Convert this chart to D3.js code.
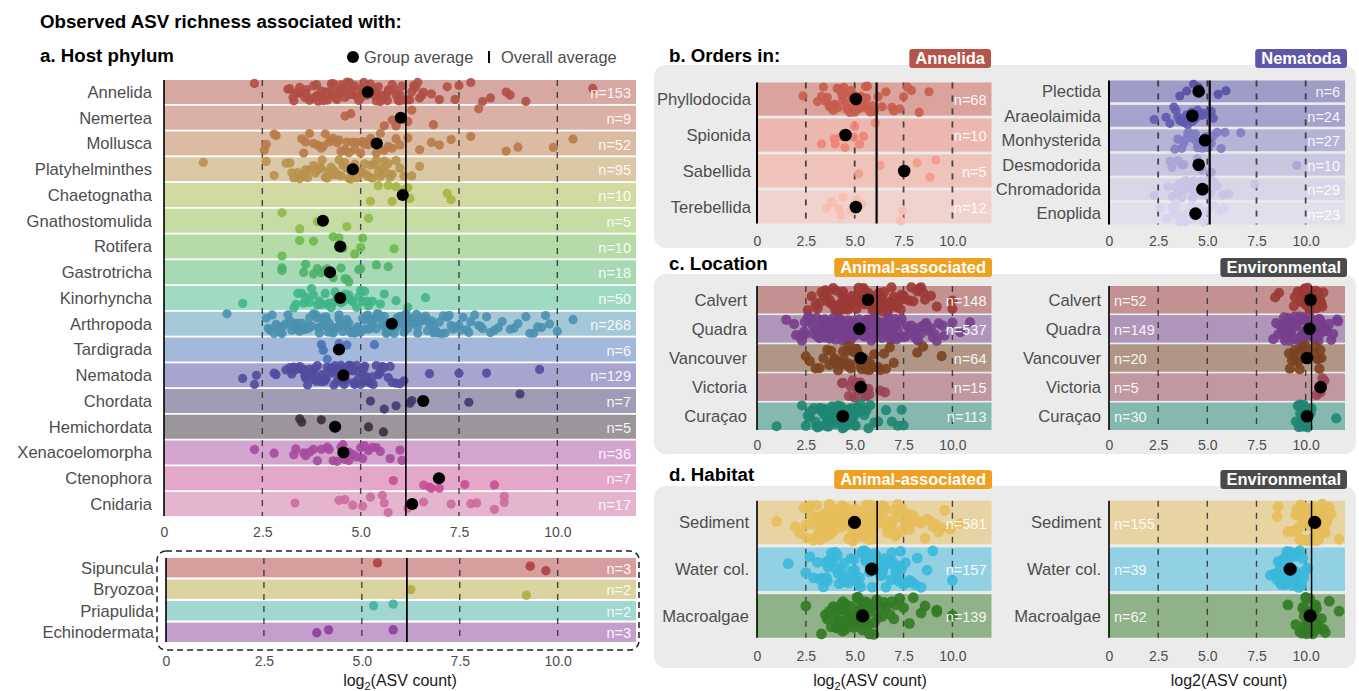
<!DOCTYPE html>
<html><head><meta charset="utf-8">
<script src="https://cdn.jsdelivr.net/npm/d3@7"></script>
<style>body{margin:0;background:#fff}svg{display:block}</style>
</head><body>
<script>
// ---------------- DATA ----------------
const phylumCats = ["Annelida","Nemertea","Mollusca","Platyhelminthes","Chaetognatha","Gnathostomulida","Rotifera","Gastrotricha","Kinorhyncha","Arthropoda","Tardigrada","Nematoda","Chordata","Hemichordata","Xenacoelomorpha","Ctenophora","Cnidaria"];
const phylumN = [153,9,52,95,10,5,10,18,50,268,6,129,7,5,36,7,17];
const phylumAvg = [5.18,6.02,5.41,4.8,6.07,4.04,4.48,4.22,4.48,5.79,4.45,4.56,6.59,4.35,4.56,6.99,6.31];
const phylumPoints = [
 [2.3,3.15,3.2,3.3,3.35,3.4,3.5,3.55,3.6,3.62,3.7,3.75,3.8,3.85,3.9,3.92,4.0,4.05,4.1,4.12,4.2,4.25,4.3,4.33,4.4,4.45,4.5,4.52,4.6,4.65,4.7,4.72,4.8,4.85,4.9,4.93,5.0,5.05,5.1,5.12,5.2,5.25,5.3,5.33,5.4,5.45,5.5,5.52,5.6,5.65,5.7,5.72,5.8,5.85,5.9,5.95,6.0,6.05,6.1,6.2,6.25,6.3,6.4,6.5,6.55,6.6,3.45,3.95,4.35,4.75,5.15,5.55,4.15,4.55,4.95,5.35,6.35,6.8,7.0,7.2,7.4,7.5,7.8,8.1,8.3,8.7,8.8,9.2,10.9,3.28,3.58,3.88,4.18,4.48,4.78,5.08,5.38,5.68,5.98,6.45,4.62,5.02],
 [4.6,4.75,5.6,5.8,5.9,6.2,6.3,6.85,8.0],
 [2.55,2.6,2.8,2.85,3.5,3.55,3.6,3.7,3.8,3.9,4.0,4.05,4.1,4.2,4.25,4.3,4.4,4.45,4.5,4.6,4.65,4.7,4.8,4.85,4.9,5.0,5.05,5.1,5.2,5.25,5.3,5.4,5.5,5.6,5.7,5.8,5.9,6.0,6.2,6.5,6.8,7.0,7.3,7.8,8.7,9.0,9.9,10.4],
 [1.0,2.6,2.8,3.1,3.2,3.25,3.3,3.4,3.45,3.5,3.6,3.65,3.7,3.8,3.85,3.9,4.0,4.02,4.1,4.15,4.2,4.3,4.35,4.4,4.5,4.55,4.6,4.7,4.75,4.8,4.9,4.95,5.0,5.05,5.1,5.15,5.2,5.3,5.35,5.4,5.5,5.55,5.6,5.7,5.75,5.8,5.9,6.0,6.1,6.3,6.5,3.55,3.95,4.25,4.65,5.25,5.45,5.65,4.45,4.85],
 [5.25,5.45,5.7,5.8,5.9,6.1,6.2,6.25,7.2,7.3],
 [3.0,3.45,3.9,4.65,5.2],
 [3.0,3.45,3.8,4.3,4.45,4.55,4.85,5.0,5.05,5.85],
 [3.0,3.0,3.55,3.6,3.8,3.9,4.0,4.1,4.15,4.3,4.5,4.6,4.65,4.7,4.95,5.0,5.4,5.7],
 [2.0,3.3,3.35,3.4,3.5,3.55,3.6,3.7,3.75,3.8,3.9,3.95,4.0,4.1,4.15,4.2,4.3,4.35,4.4,4.5,4.55,4.6,4.7,4.75,4.8,4.9,4.95,5.0,5.1,5.15,5.2,5.3,5.5,5.6,5.9,6.2,6.65,4.25,4.65,5.05],
 [1.6,2.6,2.65,2.7,2.8,2.85,2.9,3.0,3.05,3.1,3.2,3.25,3.3,3.4,3.45,3.5,3.55,3.6,3.65,3.7,3.75,3.8,3.85,3.9,3.95,4.0,4.05,4.1,4.15,4.2,4.25,4.3,4.35,4.4,4.45,4.5,4.55,4.6,4.65,4.7,4.75,4.8,4.85,4.9,4.95,5.0,5.05,5.1,5.15,5.2,5.25,5.3,5.35,5.4,5.45,5.5,5.55,5.6,5.65,5.7,5.75,5.8,5.85,5.9,5.95,6.0,6.05,6.1,6.15,6.2,6.25,6.3,6.35,6.4,6.45,6.5,6.55,6.6,6.65,6.7,6.75,6.8,6.85,6.9,6.95,7.0,7.05,7.1,7.2,7.25,7.3,7.4,7.5,7.6,7.7,7.8,7.9,8.0,8.1,8.2,8.3,8.4,8.6,8.8,9.0,9.3,9.4,9.6,9.8,10.0,10.4,3.35,3.95,4.45,4.85,5.25,5.65,6.05,6.45,6.85,4.12,4.62,5.12,5.62,6.12,3.15,3.42,3.68,3.92,4.18,4.42,4.68,4.92,5.18,5.42,5.68,5.92,6.18,6.42,6.68,6.92,7.15,7.35,7.55,7.75,8.05,8.5,8.9,9.2,9.5,9.7,2.75,2.95],
 [4.0,4.05,4.15,4.45,4.65,5.35],
 [2.0,2.3,2.35,2.8,2.85,3.1,3.2,3.25,3.3,3.4,3.45,3.5,3.55,3.6,3.65,3.7,3.75,3.8,3.85,3.9,3.95,4.0,4.05,4.1,4.15,4.2,4.25,4.3,4.35,4.4,4.45,4.5,4.55,4.6,4.65,4.7,4.75,4.8,4.85,4.9,4.95,5.0,5.05,5.1,5.15,5.2,5.25,5.3,5.4,5.45,5.5,5.6,5.7,5.8,5.9,6.0,6.1,6.75,7.5,8.2,9.55,3.62,4.12,4.62,5.12,3.88,4.38,4.88,3.32,3.58,3.82,4.08,4.32,4.58,4.82,5.08,5.32,5.55,5.75,4.02,4.28,4.52,4.78],
 [5.25,5.6,5.9,6.25,6.3,7.75,9.05],
 [3.45,3.5,4.0,5.2,5.58],
 [2.3,2.8,3.3,3.35,3.55,3.6,3.7,3.8,3.9,4.0,4.15,4.2,4.3,4.4,4.5,4.55,4.6,4.7,4.7,4.8,4.9,5.0,5.05,5.1,5.2,5.3,5.4,5.5,5.75,6.0,6.05],
 [5.83,6.6,6.75,6.8,7.0,7.65,8.4],
 [3.33,4.45,4.6,4.8,5.05,5.25,5.55,5.6,5.7,6.2,6.6,7.3,7.8,7.95,8.4,8.65,8.65]
];
const rareCats = ["Sipuncula","Bryozoa","Priapulida","Echinodermata"];
const rareN = [3,2,2,3];
const rarePoints = [[5.4,9.3,9.7],[6.25,9.2],[5.8,5.3],[3.85,4.15,5.8]];
const overallAnimal = 6.15;

const annelidOrders = ["Phyllodocida","Spionida","Sabellida","Terebellida"];
const annelidN = [68,10,5,12];
const annelidAvg = [5.06,4.53,7.53,5.06];
const annelidPoints = [
 [2.35,3.1,3.3,3.4,3.5,3.6,3.7,3.75,3.8,3.9,3.95,4.0,4.1,4.15,4.2,4.3,4.35,4.4,4.5,4.55,4.6,4.7,4.75,4.8,4.9,4.95,5.0,5.1,5.15,5.2,5.3,5.35,5.4,5.5,5.55,5.6,5.7,5.8,5.9,6.0,6.2,6.4,6.6,6.9,7.0,7.3,7.5,7.7,7.9,8.3,8.8,4.45,4.85,5.25,5.65],
 [3.3,3.95,4.0,4.3,4.5,4.95,5.0,5.25,5.45,6.05],
 [5.2,6.3,8.2,8.85,9.15],
 [3.55,3.8,3.85,4.2,4.3,4.4,4.8,4.95,5.1,5.35,7.35,7.45]
];
const annelidOverall = 6.12;

const nematodeOrders = ["Plectida","Araeolaimida","Monhysterida","Desmodorida","Chromadorida","Enoplida"];
const nematodeN = [6,24,27,10,29,23];
const nematodeAvg = [4.56,4.24,4.88,4.56,4.75,4.4];
const nematodePoints = [
 [3.6,3.95,4.3,4.55,5.55,5.95],
 [2.3,2.9,3.1,3.3,3.4,3.5,3.6,3.7,3.8,3.9,3.95,4.0,4.1,4.2,4.25,4.3,4.4,4.5,4.6,4.7,4.8,5.0,5.2,5.3],
 [3.35,3.5,3.7,3.8,3.9,4.0,4.1,4.2,4.25,4.3,4.4,4.45,4.5,4.6,4.7,4.75,4.8,4.9,5.0,5.05,5.1,5.2,5.3,5.5,5.7,5.9,6.7],
 [3.1,3.2,3.5,3.7,3.8,4.5,4.6,4.75,5.2,9.55],
 [2.3,3.0,3.2,3.4,3.5,3.6,3.8,3.9,4.0,4.1,4.2,4.3,4.4,4.5,4.6,4.7,4.8,4.9,5.0,5.2,5.3,5.5,5.8,6.1,7.4,3.7,4.25,4.65,5.1],
 [2.6,2.9,3.2,3.3,3.4,3.5,3.6,3.7,3.9,4.0,4.1,4.2,4.25,4.3,4.4,4.5,4.6,4.7,4.8,5.0,5.3,5.6,5.9]
];
const nematodeOverall = 5.12;

const locationCats = ["Calvert","Quadra","Vancouver","Victoria","Curaçao"];
const locAnimalN = [148,537,64,15,113];
const locAnimalAvg = [5.68,5.24,5.31,5.31,4.39];
const locAnimalPoints = [
 [2.6,2.8,3.0,3.1,3.2,3.3,3.4,3.5,3.6,3.7,3.8,3.85,3.9,4.0,4.05,4.1,4.2,4.25,4.3,4.4,4.45,4.5,4.6,4.65,4.7,4.8,4.85,4.9,5.0,5.05,5.1,5.2,5.25,5.3,5.4,5.45,5.5,5.6,5.65,5.7,5.8,5.85,5.9,6.0,6.05,6.1,6.2,6.25,6.3,6.4,6.5,6.6,6.7,6.8,6.9,7.0,7.1,7.2,7.3,7.4,7.5,7.6,7.8,8.0,8.2,8.4,8.5,8.6,8.9,9.2,10.0,10.0,4.35,4.75,5.15,5.55,5.95,6.35,6.75,7.15,3.62,4.12,4.58,5.02,5.48,5.92,6.42,6.88,7.35,7.9,8.3],
 [1.5,1.9,2.0,2.2,2.3,2.4,2.5,2.6,2.7,2.8,2.9,3.0,3.05,3.1,3.15,3.2,3.25,3.3,3.35,3.4,3.45,3.5,3.55,3.6,3.65,3.7,3.75,3.8,3.85,3.9,3.95,4.0,4.05,4.1,4.15,4.2,4.25,4.3,4.35,4.4,4.45,4.5,4.55,4.6,4.65,4.7,4.75,4.8,4.85,4.9,4.95,5.0,5.05,5.1,5.15,5.2,5.25,5.3,5.35,5.4,5.45,5.5,5.55,5.6,5.65,5.7,5.75,5.8,5.85,5.9,5.95,6.0,6.05,6.1,6.15,6.2,6.25,6.3,6.35,6.4,6.45,6.5,6.55,6.6,6.65,6.7,6.75,6.8,6.85,6.9,6.95,7.0,7.05,7.1,7.15,7.2,7.3,7.4,7.5,7.6,7.7,7.8,7.9,8.0,8.1,8.2,8.3,8.4,8.5,8.6,8.7,8.8,8.9,9.0,9.2,9.3,9.6,10.0,10.4,10.9,3.32,3.72,4.12,4.52,4.92,5.32,5.72,6.12,6.52,6.92,3.52,3.92,4.32,4.72,5.12,5.52,5.92,6.32,4.02,4.82,5.62,3.12,3.48,3.88,4.28,4.68,5.08,5.48,5.88,6.28,6.68,7.08,7.45,7.85,8.25,8.65,9.1,9.5,3.62,4.42,5.22,6.02,6.82,2.45,2.85],
 [2.5,2.7,3.0,3.2,3.4,3.6,3.7,3.8,3.9,4.0,4.1,4.15,4.2,4.3,4.4,4.45,4.5,4.6,4.7,4.75,4.8,4.9,5.0,5.05,5.1,5.2,5.3,5.35,5.4,5.5,5.6,5.65,5.8,5.9,6.0,6.2,6.3,6.5,6.6,6.8,7.0,8.2,8.5,9.45,4.25,4.65,5.15,5.45,5.75],
 [4.35,4.4,4.7,4.8,4.9,5.0,5.15,5.2,5.3,5.5,5.6,5.7,5.75,6.3,6.55],
 [1.0,2.3,2.5,2.7,2.8,2.9,3.0,3.05,3.1,3.2,3.25,3.3,3.4,3.45,3.5,3.55,3.6,3.65,3.7,3.75,3.8,3.85,3.9,3.95,4.0,4.05,4.1,4.15,4.2,4.25,4.3,4.35,4.4,4.45,4.5,4.55,4.6,4.65,4.7,4.75,4.8,4.85,4.9,4.95,5.0,5.05,5.1,5.2,5.3,5.4,5.5,5.6,5.7,5.8,6.0,6.2,6.6,6.9,7.2,7.4,7.5,3.42,3.82,4.22,4.62,3.62,4.02,3.15,3.58,3.98,4.38,4.78,5.15,2.6]
];
const locEnvN = [52,149,20,5,30];
const locEnvAvg = [10.25,10.2,10.07,10.76,10.07];
const locEnvPoints = [
 [8.45,8.65,9.4,9.45,9.6,9.75,9.8,9.85,9.9,9.95,10.0,10.0,10.05,10.1,10.15,10.2,10.2,10.25,10.3,10.35,10.4,10.4,10.45,10.5,10.55,10.6,10.6,10.7,10.75,10.8,10.85,10.9,10.1,10.3,10.5,10.65],
 [8.35,8.5,8.6,8.7,8.8,8.85,8.9,9.0,9.05,9.1,9.2,9.2,9.25,9.3,9.4,9.45,9.5,9.55,9.6,9.6,9.7,9.75,9.8,9.85,9.9,9.9,9.95,10.0,10.0,10.05,10.1,10.15,10.2,10.25,10.3,10.3,10.35,10.4,10.45,10.5,10.55,10.6,10.6,10.65,10.7,10.75,10.8,10.85,10.9,11.0,11.1,11.2,11.3,11.6,11.65,9.35,9.65,10.12,10.42,10.72,8.95,9.15,9.45,9.78,10.08,10.38,10.68,10.95,11.4],
 [9.15,9.2,9.3,9.4,9.45,9.5,9.6,9.7,9.75,9.8,9.9,10.0,10.05,10.4,10.5,10.6,10.65,10.7,10.75,10.8],
 [10.55,10.7,10.75,10.85,10.95],
 [9.5,9.6,9.65,9.7,9.75,9.8,9.85,9.9,9.9,9.95,10.0,10.0,10.05,10.1,10.1,10.15,10.2,10.25,10.3,11.55,9.72,9.92,10.02,10.12]
];
const envOverall = 10.3;

const habitatCats = ["Sediment","Water col.","Macroalgae"];
const habAnimalN = [581,157,139];
const habAnimalAvg = [4.99,5.87,5.4];
const habAnimalPoints = [
 [1.0,1.95,2.2,2.4,2.5,2.6,2.7,2.8,2.9,3.0,3.05,3.1,3.15,3.2,3.25,3.3,3.35,3.4,3.45,3.5,3.55,3.6,3.65,3.7,3.75,3.8,3.85,3.9,3.95,4.0,4.05,4.1,4.15,4.2,4.25,4.3,4.35,4.4,4.45,4.5,4.55,4.6,4.65,4.7,4.75,4.8,4.85,4.9,4.95,5.0,5.05,5.1,5.15,5.2,5.25,5.3,5.35,5.4,5.45,5.5,5.55,5.6,5.65,5.7,5.75,5.8,5.85,5.9,5.95,6.0,6.05,6.1,6.15,6.2,6.3,6.4,6.5,6.6,6.7,6.8,6.9,7.0,7.1,7.2,7.3,7.4,7.5,7.6,7.7,7.8,7.9,8.0,8.2,8.4,8.6,8.8,9.0,9.3,9.6,9.9,10.4,3.32,3.72,4.12,4.52,4.92,5.32,5.72,3.52,3.92,4.32,4.72,5.12,5.52,4.02,4.42,4.82,5.22,6.25,6.55,6.85,7.25,3.12,3.48,3.88,4.28,4.68,5.08,5.48,5.88,6.28,6.68,7.08,7.45,7.85,8.3,8.7,9.1,9.45,2.85,2.55,3.62,4.58,5.62],
 [1.6,2.5,2.7,2.9,3.1,3.3,3.4,3.5,3.6,3.7,3.8,3.9,4.0,4.1,4.2,4.3,4.4,4.5,4.6,4.7,4.8,4.9,5.0,5.1,5.2,5.3,5.4,5.5,5.6,5.7,5.8,5.9,6.0,6.1,6.2,6.3,6.4,6.5,6.6,6.7,6.8,6.9,7.0,7.1,7.2,7.3,7.4,7.5,7.6,7.7,7.9,8.1,8.4,8.7,9.0,10.0,4.15,4.55,4.95,5.35,5.75,6.15,6.55,6.95,7.35,3.55,5.55,6.35,3.25,3.65,4.05,4.45,4.85,5.25,5.65,6.05,6.45,6.85,7.25,7.8,8.2],
 [2.5,3.3,3.5,3.6,3.7,3.8,3.9,4.0,4.05,4.1,4.2,4.25,4.3,4.35,4.4,4.45,4.5,4.55,4.6,4.65,4.7,4.75,4.8,4.85,4.9,4.95,5.0,5.05,5.1,5.15,5.2,5.25,5.3,5.35,5.4,5.45,5.5,5.55,5.6,5.7,5.75,5.8,5.9,6.0,6.1,6.2,6.3,6.4,6.6,6.8,6.9,7.1,7.3,7.5,7.8,8.0,8.4,8.6,9.2,9.2,10.0,4.12,4.62,5.12,5.62,6.12,4.38,4.78,5.18,5.58,5.98,6.5,7.0,3.95,4.45]
];
const habEnvN = [155,39,62];
const habEnvAvg = [10.46,9.21,10.23];
const habEnvPoints = [
 [8.55,8.6,9.1,9.3,9.5,9.6,9.65,9.7,9.75,9.8,9.85,9.9,9.9,9.95,10.0,10.05,10.1,10.15,10.2,10.2,10.25,10.3,10.35,10.4,10.45,10.5,10.5,10.55,10.6,10.65,10.7,10.75,10.8,10.8,10.85,10.9,10.95,11.0,11.1,11.2,11.3,11.7,9.92,10.12,10.32,10.52,10.72,10.92,10.02,10.42,10.62,9.55,9.78,10.08,10.28,10.48,10.78,11.05],
 [8.2,8.4,8.5,8.55,8.6,8.7,8.75,8.8,8.85,8.9,8.95,9.0,9.05,9.1,9.15,9.2,9.25,9.3,9.35,9.4,9.45,9.5,9.55,9.6,9.65,9.7,9.8,9.85,9.9,10.0,10.1,8.65,8.92,9.12,9.32,9.52,9.02,9.22,8.82],
 [9.1,9.5,9.7,9.8,9.85,9.9,9.95,10.0,10.05,10.1,10.15,10.2,10.25,10.3,10.35,10.4,10.45,10.5,10.55,10.6,10.7,10.8,10.9,11.0,11.2,11.7,9.92,10.12,10.32,10.52,10.02,10.22]
];

const xTicks = [0,2.5,5,7.5,10];

// ---------------- STYLES ----------------
const phylumColors = ["#b04f45","#b5644a","#b87a48","#b8914c","#a6b443","#8cba4a","#6cb84f","#4db36a","#40b588","#4a91b0","#4a72b8","#504c9f","#423a6b","#3a2c3a","#a54a9e","#c64f94","#cc6a9f"];
const rareColors = ["#b03d3d","#b3aa42","#42b0a3","#8a409b"];
const annelidColors = ["#c95c4d","#ee8474","#f49a8a","#f8bcb0"];
const nematodeColors = ["#5350a6","#5f5bb0","#807dc2","#a7a4d6","#c6c3e5","#d6d4ee"];
const locationColors = ["#9b3a35","#763f8c","#7a4220","#994555","#1f8673"];
const habitatColors = ["#e6be5a","#3ab8dc","#337a26"];

const FONT = "'Liberation Sans', Arial, Helvetica, sans-serif";
const W = 1359, H = 691;
const svg = d3.select("body").append("svg").attr("width", W).attr("height", H)
  .attr("font-family", FONT);

function jit(i, k) {
  const s = Math.sin((i + 1) * 12.9898 + (k + 1) * 78.233) * 43758.5453;
  return (s - Math.floor(s)) * 2 - 1;
}

function strip(o) {
  const x = d3.scaleLinear().domain([0, 12]).range([o.x0, o.x1]);
  const y = d3.scaleBand().domain(o.cats).range([o.yTop, o.yBot]).paddingInner(o.pad);
  const bw = y.bandwidth();
  const g = svg.append("g");
  g.selectAll("rect.band").data(o.cats).join("rect")
    .attr("x", o.x0).attr("y", d => y(d)).attr("width", o.x1 - o.x0).attr("height", bw)
    .attr("fill", (d, i) => o.colors[i]).attr("fill-opacity", 0.5);
  g.selectAll("line.grid").data(xTicks.slice(1)).join("line")
    .attr("x1", d => x(d)).attr("x2", d => x(d)).attr("y1", o.yTop).attr("y2", o.yBot)
    .attr("stroke", "#2b2b2b").attr("stroke-width", o.gw || 1.4).attr("stroke-dasharray", o.dash || "6,6").attr("stroke-opacity", 0.85);
  g.append("line").attr("x1", x(0)).attr("x2", x(0)).attr("y1", o.yTop).attr("y2", o.yBot)
    .attr("stroke", "#000").attr("stroke-width", o.zw || 1.6);
  const pts = o.points.flatMap((arr, k) => arr.map((v, i) => ({ v, k, i })));
  g.selectAll("circle.pt").data(pts).join("circle")
    .attr("cx", d => x(d.v))
    .attr("cy", d => y(o.cats[d.k]) + bw / 2 + jit(d.i, d.k + o.seed) * bw * o.jf)
    .attr("r", o.r).attr("fill", d => o.colors[d.k]).attr("fill-opacity", 0.9);
  g.append("line").attr("x1", x(o.overall)).attr("x2", x(o.overall)).attr("y1", o.yTop).attr("y2", o.yBot)
    .attr("stroke", "#000").attr("stroke-width", o.ow || 2);
  if (o.avg) {
    g.selectAll("circle.avg").data(o.cats).join("circle")
      .attr("cx", (d, i) => x(o.avg[i])).attr("cy", d => y(d) + bw / 2)
      .attr("r", o.rAvg).attr("fill", "#000");
  }
  g.selectAll("text.cat").data(o.cats).join("text")
    .attr("x", o.x0 - o.labGap).attr("y", d => y(d) + bw / 2).attr("dy", "0.35em")
    .attr("text-anchor", "end").attr("font-size", 16.6).attr("fill", "#4d4d4d").text(d => d);
  g.selectAll("text.n").data(o.cats).join("text")
    .attr("x", o.nLeft ? o.x0 + 5 : o.x1 - 5).attr("y", d => y(d) + bw / 2 + 1).attr("dy", "0.35em")
    .attr("text-anchor", o.nLeft ? "start" : "end").attr("font-size", 14.5).attr("fill", "#fff").attr("fill-opacity", 0.92)
    .text((d, i) => "n=" + o.n[i]);
  if (o.tickY) {
    const ax = d3.axisBottom(x).tickValues(xTicks).tickSize(0).tickPadding(0)
      .tickFormat(d => d === 0 ? "0" : d3.format(".1f")(d));
    const ag = g.append("g").attr("transform", `translate(0,${o.tickY - 5})`).call(ax)
      .attr("font-family", FONT).attr("font-size", 14);
    ag.select(".domain").remove();
    ag.selectAll("text").attr("fill", "#4d4d4d");
  }
  return { x, y };
}

function axisTitle(cx, cy, sub) {
  const t = svg.append("text").attr("x", cx).attr("y", cy).attr("dy", "0.35em")
    .attr("text-anchor", "middle").attr("font-size", 16).attr("fill", "#1a1a1a");
  if (sub) {
    t.append("tspan").text("log");
    t.append("tspan").attr("font-size", 11).attr("dy", 4).text("2");
    t.append("tspan").attr("dy", -4).text("(ASV count)");
  } else t.text("log2(ASV count)");
}

function tag(rightX, bgTop, label, color) {
  const t = svg.append("text").attr("font-size", 16.5).attr("font-weight", "bold").attr("fill", "#fff")
    .attr("text-anchor", "end").attr("x", rightX - 6).attr("y", bgTop - 6.5).attr("dy", "0.35em").text(label);
  const w = t.node().getComputedTextLength();
  svg.insert("rect", () => t.node()).attr("x", rightX - w - 12).attr("y", bgTop - 16).attr("width", w + 12).attr("height", 19)
    .attr("rx", 3).attr("fill", color);
}

function title(x, y, s) {
  svg.append("text").attr("x", x).attr("y", y).attr("dy", "0.35em").attr("font-size", 18.7)
    .attr("font-weight", "bold").attr("fill", "#000").text(s);
}

// ---------------- TITLES / LEGEND ----------------
title(40, 21, "Observed ASV richness associated with:");
title(40, 55, "a. Host phylum");
svg.append("circle").attr("cx", 353).attr("cy", 57).attr("r", 6).attr("fill", "#000");
svg.append("text").attr("x", 364).attr("y", 57).attr("dy", "0.35em").attr("font-size", 16.4).attr("fill", "#4d4d4d").text("Group average");
svg.append("line").attr("x1", 489).attr("x2", 489).attr("y1", 51).attr("y2", 63).attr("stroke", "#000").attr("stroke-width", 2);
svg.append("text").attr("x", 501).attr("y", 57).attr("dy", "0.35em").attr("font-size", 16.4).attr("fill", "#4d4d4d").text("Overall average");

// ---------------- PANEL A ----------------
strip({ x0: 164, x1: 636, yTop: 80, yBot: 516, pad: 0.07, cats: phylumCats, colors: phylumColors,
  points: phylumPoints, avg: phylumAvg, n: phylumN, overall: overallAnimal, r: 4.6, rAvg: 6.1, jf: 0.42, seed: 1,
  labGap: 12, tickY: 532, ow: 1.6 });
svg.append("rect").attr("x", 157).attr("y", 551).attr("width", 482).attr("height", 99).attr("rx", 9)
  .attr("fill", "none").attr("stroke", "#222").attr("stroke-width", 1.5).attr("stroke-dasharray", "6,4");
strip({ x0: 166, x1: 636, yTop: 558, yBot: 642, pad: 0.1, cats: rareCats, colors: rareColors,
  points: rarePoints, avg: null, n: rareN, overall: overallAnimal, r: 4.7, jf: 0.4, seed: 40,
  labGap: 12, tickY: 661, ow: 1.8 });
axisTitle(400, 680, true);

// ---------------- PANEL BACKGROUNDS ----------------
[[65, 183], [274, 180], [486, 182]].forEach(([t, h]) => {
  svg.append("rect").attr("x", 654).attr("y", t).attr("width", 702).attr("height", h).attr("rx", 12).attr("fill", "#ebebeb");
});

// ---------------- PANEL B ----------------
title(669, 55, "b. Orders in:");
tag(991, 65, "Annelida", "#b5554a");
tag(1347, 65, "Nematoda", "#5c57a8");
strip({ x0: 757, x1: 991.5, yTop: 82.5, yBot: 223.5, pad: 0.08, cats: annelidOrders, colors: annelidColors,
  points: annelidPoints, avg: annelidAvg, n: annelidN, overall: annelidOverall, r: 4.6, rAvg: 6.3, jf: 0.42, seed: 60,
  labGap: 6, tickY: 241, gw: 1.8, dash: "6,7", zw: 2, ow: 2.2 });
strip({ x0: 1109, x1: 1345, yTop: 80.5, yBot: 224.5, pad: 0.11, cats: nematodeOrders, colors: nematodeColors,
  points: nematodePoints, avg: nematodeAvg, n: nematodeN, overall: nematodeOverall, r: 4.6, rAvg: 6.3, jf: 0.42, seed: 80,
  labGap: 8, tickY: 241, gw: 1.8, dash: "6,7", zw: 2, ow: 2.2 });

// ---------------- PANEL C ----------------
title(669, 263, "c. Location");
tag(992, 274, "Animal-associated", "#f0a020");
tag(1347, 274, "Environmental", "#4a4a4a");
strip({ x0: 757, x1: 991.5, yTop: 286, yBot: 430, pad: 0.06, cats: locationCats, colors: locationColors,
  points: locAnimalPoints, avg: locAnimalAvg, n: locAnimalN, overall: overallAnimal, r: 5.1, rAvg: 6.3, jf: 0.45, seed: 100,
  labGap: 10, tickY: 445, ow: 1.6 });
strip({ x0: 1109, x1: 1345, yTop: 286, yBot: 430, pad: 0.06, cats: locationCats, colors: locationColors,
  points: locEnvPoints, avg: locEnvAvg, n: locEnvN, overall: envOverall, r: 5.1, rAvg: 6.3, jf: 0.45, seed: 120,
  labGap: 8, tickY: 445, nLeft: true, ow: 1.3 });

// ---------------- PANEL D ----------------
title(669, 474, "d. Habitat");
tag(992, 486, "Animal-associated", "#f0a020");
tag(1347, 486, "Environmental", "#4a4a4a");
strip({ x0: 757, x1: 991.5, yTop: 500.7, yBot: 637.7, pad: 0.07, cats: habitatCats, colors: habitatColors,
  points: habAnimalPoints, avg: habAnimalAvg, n: habAnimalN, overall: overallAnimal, r: 5.4, rAvg: 6.6, jf: 0.43, seed: 140,
  labGap: 8, tickY: 656, ow: 1.6 });
strip({ x0: 1109, x1: 1345, yTop: 500.7, yBot: 637.7, pad: 0.07, cats: habitatCats, colors: habitatColors,
  points: habEnvPoints, avg: habEnvAvg, n: habEnvN, overall: envOverall, r: 5.4, rAvg: 6.6, jf: 0.43, seed: 160,
  labGap: 8, tickY: 656, nLeft: true, ow: 1.5 });
axisTitle(870, 680, true);
axisTitle(1229, 680, false);
</script>
</body></html>
